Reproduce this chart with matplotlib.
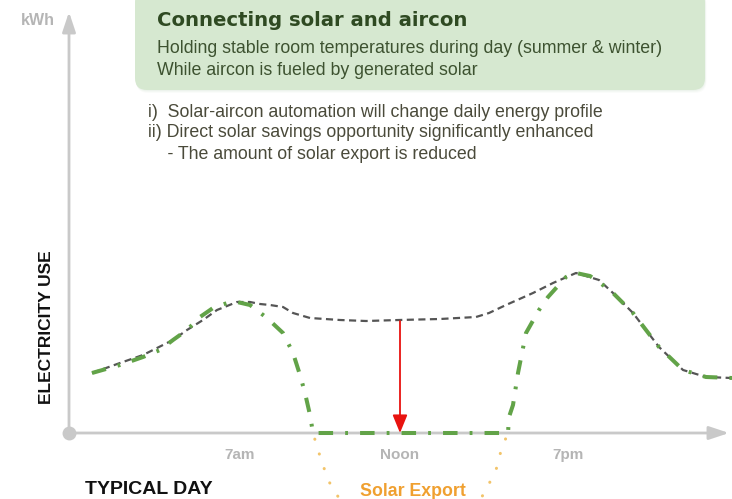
import matplotlib
matplotlib.use("Agg")
import matplotlib.pyplot as plt
from matplotlib.patches import FancyBboxPatch
import numpy as np

plt.rcParams['font.family'] = ['Liberation Sans', 'DejaVu Sans']

# ---- data (time position units along the day, usage units above zero) ----
tick_pos = [171, 331, 499]
tick_labels = ["7am", "Noon", "7pm"]

base_t = [23, 51, 74, 88, 104, 118, 134, 148, 168, 181, 191, 201, 214, 224, 241,
          271, 297, 330, 371, 407, 420, 437, 464, 484, 507, 530, 544, 564, 590,
          614, 637, 663]
base_u = [60, 70, 78, 85, 93, 103, 113, 123, 131, 131, 129, 128, 126, 120, 115,
          113, 112, 113, 114, 116, 120, 128, 140, 150, 160, 153, 140, 120, 86,
          63, 56, 55]

air_t = [23, 51, 74, 91, 104, 118, 131, 144, 161, 168, 181, 198, 214, 224, 231,
         236, 241, 244, 331, 439, 440, 444, 449, 457, 470, 479, 497, 507, 521,
         530, 544, 564, 590, 614, 637, 663]
air_u = [60, 68, 76, 83, 93, 103, 116, 125, 131, 131, 128, 115, 100, 80, 58,
         40, 18, 0, 0, 0, 16, 28, 60, 100, 123, 136, 156, 160, 157, 151, 140,
         120, 86, 63, 56, 55]

exp_left_t = [244, 249, 254, 259, 268, 280]
exp_left_u = [0, -17, -32, -47, -62, -80]
exp_right_t = [439, 432, 429, 422, 414, 402]
exp_right_u = [0, -17, -32, -47, -62, -80]

arrow_t = 331
arrow_from = 112
arrow_to = 0

fig = plt.figure(figsize=(7.32, 4.99), dpi=100)
ax = fig.add_axes([0, 0, 1, 1])
ax.set_xlim(-69, 663)
ax.set_ylim(-66, 433)
ax.axis('off')

axis_col = '#c9c9c9'
# axes with arrows
ax.annotate('', xy=(0, 421), xytext=(0, 0),
            arrowprops=dict(arrowstyle='-|>,head_length=1.2,head_width=0.4',
                            color=axis_col, lw=2, shrinkA=0, shrinkB=0))
ax.annotate('', xy=(660, 0), xytext=(0, 0),
            arrowprops=dict(arrowstyle='-|>,head_length=1.2,head_width=0.4',
                            color=axis_col, lw=2, shrinkA=0, shrinkB=0))
ax.plot([0], [0], 'o', color=axis_col, ms=9, zorder=3)

# lines
ax.plot(base_t, base_u, color='#555555', lw=1.6, ls=(0, (3.2, 2)), zorder=4)
ax.plot(air_t, air_u, color='#62a348', lw=2.9, ls=(0, (3.6, 3, 0.7, 3)), zorder=5)
for et, eu in [(exp_left_t, exp_left_u), (exp_right_t, exp_right_u)]:
    ax.plot(et, eu, color='#f2c46a', lw=2.2, ls=(8, (0.05, 5)),
            dash_capstyle='round', zorder=3)

# red arrow
ax.annotate('', xy=(arrow_t, arrow_to), xytext=(arrow_t, arrow_from),
            arrowprops=dict(arrowstyle='-|>,head_length=1.1,head_width=0.45',
                            color='#e8130f', lw=1.3, shrinkA=0, shrinkB=0),
            zorder=6)

# tick labels
for p, l in zip(tick_pos, tick_labels):
    ax.text(p, -22, l, ha='center', va='center', fontsize=11,
            fontweight='bold', color='#b5b5b5')

ax.text(-31, 413, 'kWh', ha='center', va='center', fontsize=11.5,
        fontweight='bold', color='#b5b5b5')
ax.text(-22, 106, 'ELECTRICITY USE', rotation=90, ha='center', va='center',
        fontsize=12.5, fontweight='bold', color='#111111')
ax.text(16, -57, 'TYPICAL DAY', ha='left', va='center', fontsize=14,
        fontweight='bold', color='#111111')
ax.text(344, -58, 'Solar Export', ha='center', va='center', fontsize=12.8,
        fontweight='bold', color='#f0a030')

# header box
for off, a in [(3, 0.05), (2, 0.07), (1, 0.09)]:
    sh = FancyBboxPatch((66 + off * 0.5, 343 - off), 570, 100,
                        boxstyle='round,pad=0,rounding_size=12',
                        fc='#b0c8a8', ec='none', alpha=a, zorder=1)
    ax.add_patch(sh)
box = FancyBboxPatch((66, 343), 570, 100,
                     boxstyle='round,pad=0,rounding_size=12',
                     fc='#d6e8d0', ec='none', zorder=2)
ax.add_patch(box)
ax.text(88, 413, 'Connecting solar and aircon', ha='left', va='center',
        fontsize=14.1, fontweight='bold', color='#2f4a22', zorder=3,
        family='DejaVu Sans')
ax.text(88, 385, 'Holding stable room temperatures during day (summer & winter)',
        ha='left', va='center', fontsize=12.8, color='#3d5230', zorder=3)
ax.text(88, 363, 'While aircon is fueled by generated solar',
        ha='left', va='center', fontsize=12.8, color='#3d5230', zorder=3)

ax.text(79, 321, 'i)  Solar-aircon automation will change daily energy profile',
        ha='left', va='center', fontsize=12.8, color='#4a4a3a')
ax.text(79, 301, 'ii) Direct solar savings opportunity significantly enhanced',
        ha='left', va='center', fontsize=12.8, color='#4a4a3a')
ax.text(79, 279, '    - The amount of solar export is reduced',
        ha='left', va='center', fontsize=12.8, color='#4a4a3a')

fig.savefig('out.png', dpi=100)
